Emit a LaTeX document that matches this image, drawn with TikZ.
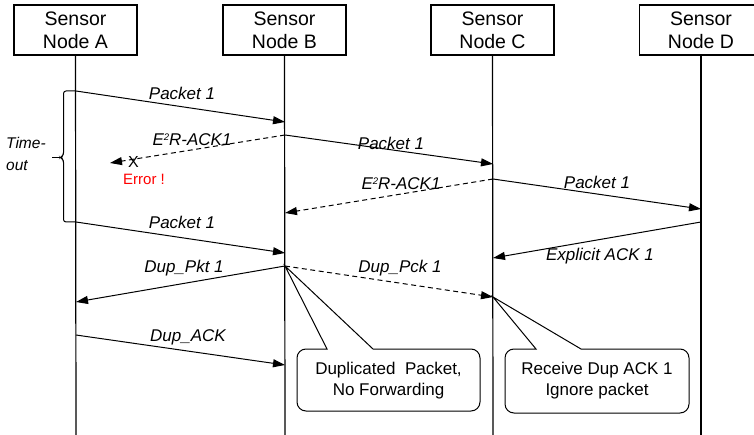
\documentclass[tikz,border=0pt]{standalone}
\usepackage{fontspec}
\setmainfont{Liberation Sans}
\usetikzlibrary{arrows.meta}
\newcommand{\sqsup}{\raisebox{5.2pt}{\fontsize{9.5}{9.5}\selectfont 2}}
\begin{document}
\begin{tikzpicture}[x=1pt,y=-1pt,
  head/.style={draw, line width=1.2pt, minimum width=123pt, minimum height=50pt, inner sep=0pt, align=center, font=\fontsize{19.5}{23}\selectfont},
  life/.style={line width=1.2pt},
  msg/.style={line width=1pt, -{Triangle[length=12pt,width=8pt]}},
  ack/.style={msg, dash pattern=on 5pt off 3.5pt},
  lbl/.style={font=\fontsize{17}{20}\selectfont\itshape, inner sep=0pt},
  note/.style={font=\fontsize{17}{21}\selectfont, align=center, inner sep=0pt},
  callout/.style={line width=1pt},
]
\useasboundingbox (0,0) rectangle (754,435);
% heads
\node[head] (hA) at (75.5,30) {Sensor\\Node A};
\node[head] (hB) at (284.5,30) {Sensor\\Node B};
\node[head] (hC) at (492.5,30) {Sensor\\Node C};
\node[head] (hD) at (701,30) {Sensor\\Node D};
% lifeline ends
\coordinate (eA) at (76,440);
\coordinate (eB) at (285,440);
\coordinate (eC) at (493,440);
\coordinate (eD) at (701,440);
\draw[life] (hA.south) -- (eA);
\draw[life] (hB.south) -- (eB);
\draw[life] (hC.south) -- (eC);
\draw[life] (hD.south) -- (eD);
% message points
\coordinate (a1) at (76,91);
\coordinate (b1) at (285,122);
\coordinate (b2) at (285,135);
\coordinate (err) at (110,163);
\coordinate (c1) at (493,164);
\coordinate (c2) at (493,179);
\coordinate (b3) at (285,213);
\coordinate (d1) at (701,209);
\coordinate (a2) at (76,222);
\coordinate (b4) at (285,253);
\coordinate (d2) at (701,222);
\coordinate (c3) at (493,258);
\coordinate (b5) at (285,266);
\coordinate (a3) at (76,302);
\coordinate (c4) at (493,297);
\coordinate (a4) at (76,335);
\coordinate (b6) at (285,365);
% messages
\draw[msg] (a1) -- (b1);
\draw[ack] (b2) -- (err);
\draw[msg] (b2) -- (c1);
\draw[ack] (c2) -- (b3);
\draw[msg] (c2) -- (d1);
\draw[msg] (a2) -- (b4);
\draw[msg] (d2) -- (c3);
\draw[msg] (b5) -- (a3);
\draw[ack] (b5) -- (c4);
\draw[msg] (a4) -- (b6);
% labels
\node[lbl] (l1) at (182,93) {Packet 1};
\node[lbl] (l2) at (192,140) {E\sqsup R-ACK1};
\node[lbl] (l3) at (391,143) {Packet 1};
\node[lbl] (l4) at (401,184) {E\sqsup R-ACK1};
\node[lbl] (l5) at (597,182) {Packet 1};
\node[lbl] (l6) at (182,222) {Packet 1};
\node[lbl] (l7) at (600,256) {Explicit ACK 1};
\node[lbl] (l8) at (184,268) {Dup\_Pkt 1};
\node[lbl] (l9) at (400,268) {Dup\_Pck 1};
\node[lbl] (l10) at (188,337) {Dup\_ACK};
% error
\node[font=\fontsize{16}{18}\selectfont, inner sep=0pt] (xx) at (133.5,161.5) {X};
\node[font=\fontsize{15}{18}\selectfont, text=red, inner sep=0pt] (errt) at (144,179) {Error !};
% timeout brace
\draw[line width=1pt, rounded corners=2.5pt] (a1) -- (63.5,91) -- (63.5,155) -- (60.5,157.5) -- (63.5,160) -- (63.5,222) -- (a2);
\coordinate (bt1) at (52,157.5);
\coordinate (bt2) at (61,157.5);
\draw[line width=1pt] (bt1) -- (bt2);
\node[font=\fontsize{15.5}{22}\selectfont\itshape, align=left, inner sep=0pt, anchor=west] (to) at (6,154) {Time-\\out};
% callouts
\draw[callout] (b5) -- (327,349) [rounded corners=9pt] -- (297,349) -- (297,411) -- (480,411) -- (480,349) [sharp corners] -- (373,349) -- cycle;
\node[note] (n1) at (388.5,380.5) {Duplicated~ Packet,\\No Forwarding};
\draw[callout] (c4) -- (536,349) [rounded corners=9pt] -- (505,349) -- (505,413) -- (689,413) -- (689,349) [sharp corners] -- (581,349) -- cycle;
\node[note] (n2) at (597,381) {Receive Dup ACK 1\\Ignore packet};
\end{tikzpicture}
\end{document}
